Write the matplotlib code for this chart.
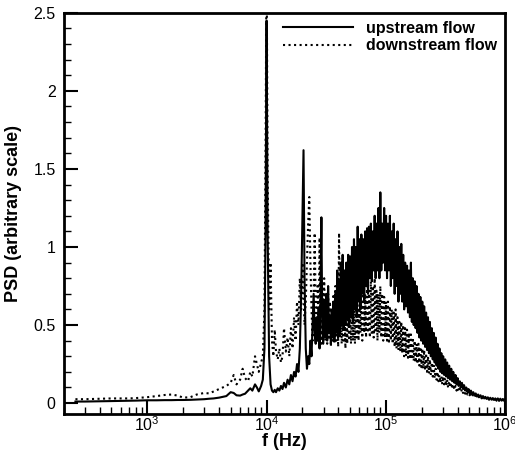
import matplotlib
matplotlib.use("Agg")
import matplotlib.pyplot as plt
from matplotlib.ticker import LogLocator, MultipleLocator, FormatStrFormatter, NullFormatter

plt.rcParams['font.family'] = ['Liberation Sans', 'DejaVu Sans']
plt.rcParams['mathtext.fontset'] = 'custom'
plt.rcParams['mathtext.rm'] = 'Liberation Sans'

# frequency grid (Hz) shared by both spectra
freq_hz = [
    250, 300, 400, 500, 600, 700, 800, 900, 1000, 1200, 1400, 1600, 1800, 2000,
    2300, 2600, 3000, 3300, 3600, 4000, 4300, 4600, 5000, 5300, 5600, 6000, 6300,
    6600, 7000, 7300, 7600, 8000, 8300, 8600, 9000, 9300, 9600, 9800, 10000, 10200,
    10500, 10800, 11100, 11400, 11700, 12000, 12400, 12800, 13200, 13600, 14000,
    14500, 15000, 15500, 16000, 16500, 17000, 17500, 18000, 18500, 19000, 19500,
    20000, 20400, 20800, 21300, 21800, 22300, 22800, 23300, 23800, 24300, 24800,
    25300, 25800, 26300, 26800, 27300, 27800, 28300, 28800, 29300, 29800, 30400,
    31000, 31600, 32200, 32800, 33400, 34000, 34600, 35200, 35800, 36400, 37000,
    37700, 38400, 39100, 39800, 40500, 41200, 41900, 42600, 43400, 44200, 45000,
    45800, 46600, 47400, 48300, 49200, 50100, 51000, 52000, 53000, 54000, 55000,
    56000, 57000, 58000, 59000, 60100, 61200, 62300, 63400, 64600, 65800, 67000,
    68200, 69500, 70800, 72100, 73400, 74800, 76200, 77600, 79000, 80500, 82000,
    83500, 85000, 86600, 88200, 89800, 91500, 93200, 95000, 96700, 98500, 100300,
    102200, 104100, 106000, 108000, 110000, 112000, 114100, 116200, 118400, 120600,
    122800, 125100, 127400, 129800, 132200, 134600, 137100, 139700, 142300, 145000,
    147700, 150400, 153200, 156000, 159000, 162000, 165000, 168000, 171000, 174200,
    177400, 180700, 184100, 187500, 191000, 194500, 198100, 201800, 205500, 209300,
    213200, 217200, 221200, 225300, 229500, 233700, 238100, 242500, 247000, 251600,
    256300, 261000, 265900, 270800, 275800, 281000, 286200, 291500, 297000, 302000,
    308000, 314000, 320000, 326000, 332000, 339000, 346000, 353000, 360000, 367000,
    375000, 383000, 391000, 399000, 407000, 416000, 425000, 434000, 443000, 452000,
    462000, 472000, 482000, 493000, 504000, 516000, 528000, 540000, 553000, 566000,
    579000, 593000, 607000, 621000, 636000, 651000, 666000, 682000, 698000, 715000,
    732000, 750000, 768000, 787000, 806000, 826000, 846000, 867000, 888000, 910000,
    932000, 955000, 978000, 1000000,
]

psd_upstream = [
    0.010, 0.010, 0.012, 0.013, 0.014, 0.015, 0.016, 0.017, 0.018, 0.018, 0.019, 0.019, 0.020, 0.020,
    0.021, 0.023, 0.025, 0.028, 0.030, 0.035, 0.040, 0.045, 0.070, 0.065, 0.050, 0.048, 0.055,
    0.060, 0.080, 0.095, 0.080, 0.120, 0.100, 0.075, 0.110, 0.150, 0.350, 1.100, 2.450, 1.100,
    0.300, 0.120, 0.080, 0.070, 0.085, 0.070, 0.095, 0.080, 0.110, 0.090, 0.130,
    0.100, 0.150, 0.120, 0.180, 0.140, 0.200, 0.170, 0.250, 0.200, 0.350, 0.700,
    1.200, 1.620, 0.800, 0.350, 0.220, 0.300, 0.250, 0.400, 0.300, 0.500, 0.700,
    0.450, 0.380, 0.550, 0.400, 0.600, 0.350, 0.700, 1.190, 0.500, 0.380, 0.650,
    0.420, 0.700, 0.400, 0.750, 0.450, 0.550, 0.380, 0.600, 0.420, 0.650, 0.400,
    0.700, 0.450, 0.850, 0.420, 0.780, 0.450, 0.900, 0.500, 0.950, 0.480, 0.850,
    0.500, 0.900, 0.550, 0.950, 0.500, 0.940, 0.550, 1.000, 0.520, 1.050, 0.600,
    1.000, 0.550, 1.130, 0.650, 1.050, 0.600, 1.080, 0.700, 1.050, 0.650, 1.100,
    0.750, 1.120, 0.700, 1.130, 0.800, 1.150, 0.780, 1.100, 0.850, 1.200, 0.800,
    1.150, 0.850, 1.250, 0.800, 1.350, 0.850, 1.150, 0.900, 1.250, 0.850, 1.200,
    0.800, 1.150, 0.850, 1.200, 0.750, 1.100, 0.800, 1.150, 0.700, 1.050,
    0.750, 1.100, 0.650, 1.000, 0.700, 1.020, 0.650, 0.950, 0.600, 0.900,
    0.620, 0.880, 0.580, 0.850, 0.550, 0.900, 0.520, 0.800, 0.500, 0.780,
    0.480, 0.750, 0.450, 0.700, 0.420, 0.680, 0.400, 0.650, 0.380, 0.620,
    0.360, 0.580, 0.340, 0.550, 0.320, 0.520, 0.300, 0.480, 0.280, 0.450,
    0.260, 0.420, 0.240, 0.380, 0.220, 0.350, 0.200, 0.320, 0.190, 0.300,
    0.180, 0.280, 0.170, 0.260, 0.160, 0.240, 0.150, 0.220, 0.140, 0.200,
    0.130, 0.180, 0.120, 0.160, 0.110, 0.140, 0.100, 0.130, 0.090, 0.115,
    0.080, 0.100, 0.070, 0.090, 0.060, 0.080, 0.055, 0.070, 0.048, 0.062,
    0.042, 0.055, 0.038, 0.050, 0.034, 0.045, 0.030, 0.040, 0.027, 0.037,
    0.024, 0.034, 0.022, 0.032, 0.020, 0.030, 0.018, 0.030, 0.017, 0.028,
    0.016, 0.026, 0.015, 0.025,
]

psd_downstream = [
    0.025, 0.025, 0.028, 0.030, 0.030, 0.030, 0.032, 0.035, 0.038, 0.045, 0.052, 0.055, 0.048, 0.035,
    0.038, 0.055, 0.065, 0.062, 0.075, 0.090, 0.100, 0.110, 0.130, 0.180, 0.120, 0.150, 0.220,
    0.160, 0.140, 0.200, 0.170, 0.300, 0.250, 0.200, 0.260, 0.300, 0.600, 1.600, 2.900, 1.500,
    0.600, 0.900, 0.400, 0.300, 0.470, 0.330, 0.280, 0.350, 0.260, 0.300, 0.480,
    0.330, 0.420, 0.300, 0.480, 0.350, 0.550, 0.400, 0.650, 0.500, 0.800, 0.600,
    0.900, 0.700, 0.500, 0.650, 0.900, 1.150, 1.320, 0.900, 0.600, 0.400, 0.700,
    1.090, 0.600, 0.400, 0.750, 0.450, 1.060, 0.500, 0.380, 0.700, 0.450, 0.800,
    0.400, 0.650, 0.380, 0.700, 0.420, 0.650, 0.360, 0.600, 0.400, 0.700, 0.380,
    0.750, 0.400, 0.800, 0.360, 1.090, 0.420, 0.700, 0.380, 0.650, 0.400, 0.600,
    0.350, 0.700, 0.380, 0.600, 0.400, 0.650, 0.380, 0.620, 0.400, 0.700, 0.380,
    0.650, 0.420, 0.600, 0.400, 0.700, 0.450, 0.650, 0.400, 0.720, 0.450, 0.700,
    0.420, 0.750, 0.450, 0.720, 0.420, 0.780, 0.450, 0.750, 0.420, 0.800, 0.450,
    0.720, 0.400, 0.700, 0.450, 0.750, 0.420, 0.700, 0.400, 0.680, 0.420, 0.650,
    0.400, 0.650, 0.380, 0.620, 0.400, 0.600, 0.380, 0.580, 0.360, 0.600,
    0.350, 0.550, 0.340, 0.520, 0.330, 0.520, 0.320, 0.500, 0.300, 0.480,
    0.300, 0.470, 0.290, 0.450, 0.280, 0.440, 0.280, 0.420, 0.270, 0.400,
    0.260, 0.380, 0.250, 0.380, 0.240, 0.360, 0.230, 0.350, 0.220, 0.340,
    0.210, 0.320, 0.200, 0.300, 0.190, 0.280, 0.180, 0.260, 0.170, 0.240,
    0.160, 0.220, 0.150, 0.200, 0.140, 0.180, 0.130, 0.170, 0.120, 0.170,
    0.120, 0.160, 0.110, 0.150, 0.100, 0.140, 0.100, 0.130, 0.090, 0.120,
    0.085, 0.110, 0.080, 0.100, 0.075, 0.095, 0.070, 0.090, 0.065, 0.080,
    0.060, 0.075, 0.055, 0.065, 0.050, 0.060, 0.045, 0.055, 0.040, 0.050,
    0.036, 0.046, 0.032, 0.042, 0.030, 0.038, 0.027, 0.035, 0.024, 0.032,
    0.022, 0.030, 0.020, 0.028, 0.018, 0.027, 0.016, 0.028, 0.015, 0.026,
    0.015, 0.024, 0.014, 0.022,
]

fig = plt.figure(figsize=(5.15, 4.58), dpi=100)
ax = fig.add_axes([0.124, 0.096, 0.857, 0.876])

ax.plot(freq_hz, psd_upstream, color='black', lw=1.5, ls='-', label='upstream flow', zorder=3)
ax.plot(freq_hz, psd_downstream, color='black', lw=1.5, ls=':', label='downstream flow', zorder=2)

ax.set_xscale('log')
ax.set_xlim(200, 1e6)
ax.set_ylim(-0.07, 2.5)

ax.xaxis.set_major_locator(LogLocator(base=10, numticks=10))
ax.xaxis.set_minor_locator(LogLocator(base=10, subs=range(2, 10), numticks=20))
ax.xaxis.set_minor_formatter(NullFormatter())
ax.yaxis.set_major_locator(MultipleLocator(0.5))
ax.yaxis.set_minor_locator(MultipleLocator(0.1))
ax.yaxis.set_major_formatter(FormatStrFormatter('%g'))

ax.tick_params(which='both', direction='in', top=False, right=False, labelsize=11.5)
ax.tick_params(which='major', length=10, width=1.5)
ax.tick_params(which='minor', length=5, width=1)
ax.tick_params(axis='y', which='major', pad=6)
ax.tick_params(axis='x', which='major', pad=1)
for s in ax.spines.values():
    s.set_linewidth(2)

ax.set_xlabel('f (Hz)', fontsize=13, fontweight='bold', labelpad=-1)
ax.set_ylabel('PSD (arbitrary scale)', fontsize=13, fontweight='bold', labelpad=8)

ax.legend(loc='upper right', frameon=False, handlelength=4.4, handletextpad=0.8,
          prop={'weight': 'bold', 'size': 11.5}, borderaxespad=0.1, labelspacing=0.15)

fig.savefig('out.png', dpi=100)
